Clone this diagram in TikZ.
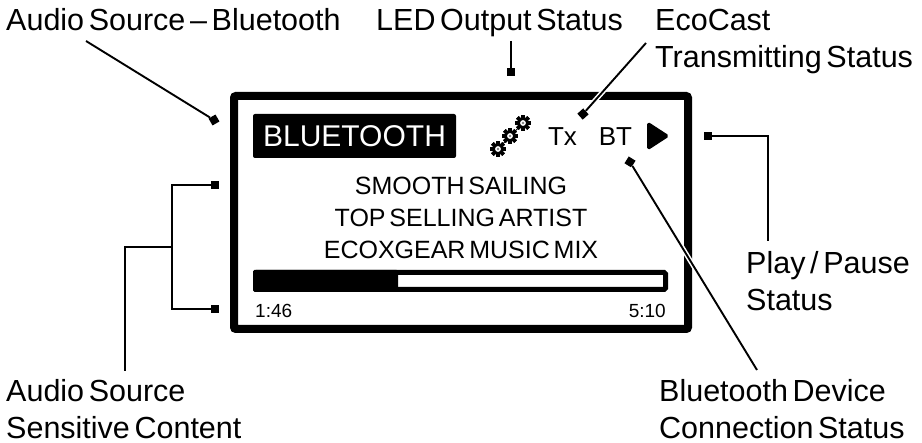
\documentclass[tikz,border=0pt]{standalone}
\usepackage{fontspec}
\setmainfont[WordSpace=0.55]{Liberation Sans}
\newcommand{\gearicon}[2]{
    \foreach \a in {0,45,...,315} {
        \fill[rotate around={\a:(#1,#2)}] (#1-1.8,#2-7.8) rectangle (#1+1.8,#2+7.8);
    }
    \fill (#1,#2) circle (5.6);
    \fill[white] (#1,#2) circle (2.9);
    \fill[gray] (#1,#2) circle (1.4);
}

\begin{document}
\begin{tikzpicture}[x=1pt, y=-1pt]
            \tikzstyle{every node} = [inner sep=0pt, text=black]
            \tikzstyle{lbl}  = [anchor=base west, align=left, font=\fontsize{30.5}{37}\selectfont]
            \tikzstyle{scr}  = [anchor=base, align=center, font=\fontsize{25}{32}\selectfont]
            \tikzstyle{small}  = [font=\fontsize{19}{24}\selectfont]
            \tikzstyle{dot}  = [fill=black, rectangle, minimum size=8pt]
            \tikzstyle{wire}  = [line width=1.9pt]

            \useasboundingbox (0,0) rectangle (922,443);

            % labels
            \node[lbl] (audio) at (6,31) {Audio Source -- Bluetooth};
            \node[lbl] (led) at (376,31) {LED Output Status};
            \node[lbl] (eco) at (655,68) {EcoCast\\Transmitting Status};
            \node[lbl] (play) at (746,311) {Play / Pause\\Status};
            \node[lbl] (btdev) at (659,438.5) {Bluetooth Device\\Connection Status};
            \node[lbl] (sens) at (6,438.5) {Audio Source\\Sensitive Content};

            % screen
            \node[draw, line width=8pt, rounded corners=2pt, minimum width=454pt, minimum height=233pt] (frame) at (461,212.5) {};
            \node[fill=black, rounded corners=2pt, minimum width=203pt, minimum height=44pt, text=white, font=\fontsize{30}{36}\selectfont] (source) at (354.5,136) {BLUETOOTH};
            \node[scr] (title) at (461,259) {SMOOTH SAILING\\TOP SELLING ARTIST\\ECOXGEAR MUSIC MIX};
            \node[anchor=base, font=\fontsize{26}{30}\selectfont] (tx) at (562.5,146) {Tx};
            \node[anchor=base, font=\fontsize{26}{30}\selectfont] (bt) at (615.5,146) {BT};
            \node[small, anchor=base west] (elapsed) at (255,318) {1:46};
            \node[small, anchor=base east] (total) at (666,318) {5:10};

            \draw[line width=1pt] (498,149) -- (523,123);
            \gearicon{498}{149}
            \gearicon{510}{136}
            \gearicon{523}{123}

            \fill[rounded corners=1.5pt, line width=2pt, draw, line join=round] (648,123) -- (668,136) -- (648,149) -- cycle;

            \node[draw, line width=5pt, rounded corners=1.5pt, minimum width=410pt, minimum height=17pt] (bar) at (460.5,281) {};
            \fill[rounded corners=1.5pt] (253,270) rectangle (398,292);

            % pointers
            \node[dot, rotate=30] (m1) at (214,120) {};
            \node[dot] (m2) at (511,72) {};
            \node[dot, rotate=42] (m3) at (583,114) {};
            \node[dot] (m4) at (708,136) {};
            \node[dot, rotate=-32] (m5) at (630,162) {};
            \node[dot] (m6) at (215,185) {};
            \node[dot] (m7) at (215,309) {};

            \coordinate (c1) at (86,41);
            \coordinate (c2) at (511,41);
            \coordinate (c3) at (646,43);
            \coordinate (c4) at (757,370);
            \coordinate (c5) at (768,136);
            \coordinate (c6) at (768,241);
            \coordinate (c7) at (172,185);
            \coordinate (c8) at (172,309);
            \coordinate (c9) at (172,247);
            \coordinate (c10) at (125,247);
            \coordinate (c11) at (125,371);

            \draw[wire] (c1) -- (m1);
            \draw[wire] (c2) -- (m2);
            \draw[wire, white, line width=5pt] (c3) -- (m3);
            \draw[wire] (c3) -- (m3);
            \draw[wire, white, line width=5pt] (c4) -- (m5);
            \draw[wire] (c4) -- (m5);
            \draw[wire] (m4) -- (c5) -- (c6);
            \draw[wire] (m6) -- (c7) -- (c8) -- (m7);
            \draw[wire] (c9) -- (c10) -- (c11);
\end{tikzpicture}
\end{document}
